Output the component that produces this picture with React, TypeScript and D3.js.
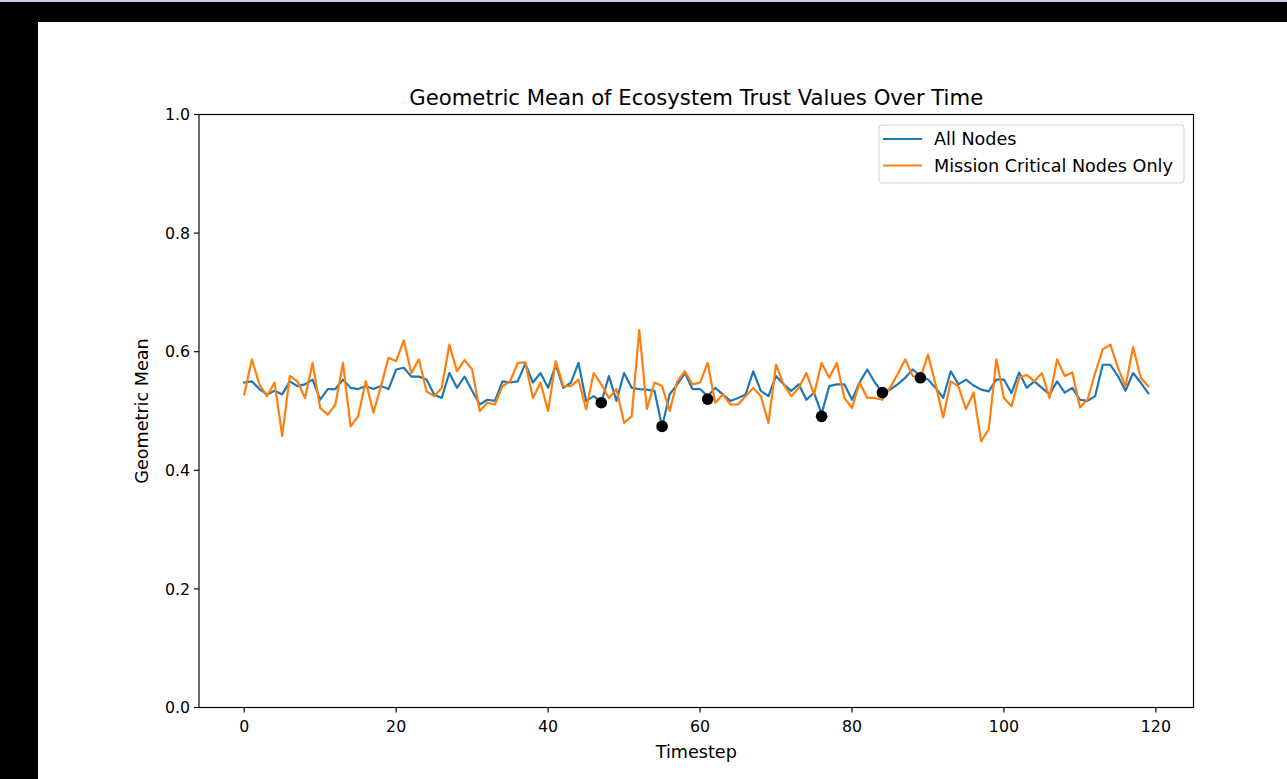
import React from "react";
import * as d3 from "d3";

const allNodes: number[] = [
  0.548, 0.550, 0.537, 0.528, 0.534, 0.528, 0.550, 0.542, 0.545, 0.553,
  0.519, 0.537, 0.537, 0.553, 0.539, 0.537, 0.542, 0.537, 0.542, 0.537,
  0.570, 0.573, 0.558, 0.558, 0.553, 0.528, 0.522, 0.564, 0.539, 0.558,
  0.534, 0.511, 0.519, 0.517, 0.550, 0.548, 0.550, 0.580, 0.548, 0.564,
  0.539, 0.578, 0.539, 0.548, 0.581, 0.517, 0.525, 0.514, 0.559, 0.517,
  0.564, 0.539, 0.537, 0.536, 0.534, 0.474, 0.528, 0.545, 0.564, 0.537,
  0.537, 0.525, 0.539, 0.528, 0.517, 0.522, 0.528, 0.567, 0.534, 0.525,
  0.559, 0.545, 0.534, 0.545, 0.519, 0.531, 0.495, 0.542, 0.545, 0.545,
  0.519, 0.548, 0.570, 0.548, 0.531, 0.536, 0.545, 0.556, 0.570, 0.559,
  0.553, 0.539, 0.522, 0.567, 0.545, 0.553, 0.543, 0.536, 0.533, 0.553,
  0.553, 0.530, 0.565, 0.539, 0.550, 0.539, 0.528, 0.550, 0.531, 0.539,
  0.519, 0.517, 0.525, 0.578, 0.578, 0.559, 0.534, 0.564, 0.548, 0.530,
];

const missionCritical: number[] = [
  0.528, 0.587, 0.545, 0.525, 0.548, 0.458, 0.559, 0.550, 0.522, 0.581,
  0.505, 0.494, 0.511, 0.581, 0.474, 0.491, 0.550, 0.497, 0.542, 0.590,
  0.584, 0.619, 0.564, 0.587, 0.533, 0.525, 0.539, 0.612, 0.567, 0.586,
  0.570, 0.500, 0.514, 0.511, 0.542, 0.550, 0.581, 0.582, 0.522, 0.548,
  0.500, 0.584, 0.542, 0.542, 0.553, 0.503, 0.564, 0.545, 0.522, 0.537,
  0.480, 0.491, 0.637, 0.503, 0.548, 0.542, 0.500, 0.550, 0.567, 0.545,
  0.548, 0.581, 0.514, 0.528, 0.511, 0.511, 0.525, 0.539, 0.525, 0.480,
  0.578, 0.545, 0.525, 0.539, 0.564, 0.528, 0.581, 0.556, 0.581, 0.522,
  0.505, 0.548, 0.522, 0.522, 0.519, 0.539, 0.562, 0.587, 0.559, 0.555,
  0.595, 0.545, 0.489, 0.550, 0.542, 0.503, 0.531, 0.449, 0.469, 0.587,
  0.522, 0.508, 0.556, 0.561, 0.550, 0.564, 0.522, 0.587, 0.559, 0.565,
  0.506, 0.519, 0.564, 0.604, 0.612, 0.573, 0.542, 0.608, 0.556, 0.542,
];

const markedSteps: number[] = [47, 55, 61, 76, 84, 89];
const markedValues: number[] = [0.514, 0.474, 0.520, 0.491, 0.531, 0.556];

const xTicks: number[] = [0, 20, 40, 60, 80, 100, 120];
const yTicks: number[] = [0.0, 0.2, 0.4, 0.6, 0.8, 1.0];

const seriesNames: string[] = ["All Nodes", "Mission Critical Nodes Only"];
const seriesColors: string[] = ["#1f77b4", "#ff7f0e"];

const W = 1287;
const H = 779;
const plot = { left: 199, right: 1193.5, top: 114.5, bottom: 707.5 };
const FONT = "'DejaVu Sans', sans-serif";
const TICK_FS = 15.8;
const LABEL_FS = 17.6;
const TITLE_FS = 21.2;

export default function App() {
  const n = allNodes.length;
  const x = d3
    .scaleLinear()
    .domain([-0.05 * (n - 1), (n - 1) * 1.05])
    .range([plot.left, plot.right]);
  const y = d3.scaleLinear().domain([0, 1]).range([plot.bottom, plot.top]);

  const line = d3
    .line<number>()
    .x((_, i) => x(i))
    .y((d) => y(d));

  const series = [allNodes, missionCritical];

  return (
    <svg
      width={W}
      height={H}
      style={{ position: "fixed", left: 0, top: 0, display: "block" }}
      fontFamily={FONT}
    >
      <rect x={0} y={0} width={W} height={H} fill="#000" />
      <rect x={0} y={0} width={W} height={2} fill="#cfc8e6" />
      <rect x={38} y={22} width={W - 38} height={H - 22} fill="#fff" />

      {/* title */}
      <text
        x={(plot.left + plot.right) / 2}
        y={plot.top - 10}
        textAnchor="middle"
        fontSize={TITLE_FS}
        fill="#000"
      >
        Geometric Mean of Ecosystem Trust Values Over Time
      </text>

      {/* lines */}
      {series.map((s, k) => (
        <path
          key={k}
          d={line(s) || ""}
          fill="none"
          stroke={seriesColors[k]}
          strokeWidth={2.2}
          strokeLinejoin="round"
          strokeLinecap="square"
        />
      ))}

      {/* marked points */}
      {markedSteps.map((t, i) => (
        <circle key={t} cx={x(t)} cy={y(markedValues[i])} r={5.8} fill="#000" />
      ))}

      {/* frame */}
      <rect
        x={plot.left}
        y={plot.top}
        width={plot.right - plot.left}
        height={plot.bottom - plot.top}
        fill="none"
        stroke="#000"
        strokeWidth={1.16}
      />

      {/* x ticks */}
      {xTicks.map((t) => (
        <g key={t} transform={`translate(${x(t)},${plot.bottom})`}>
          <line y1={0} y2={5} stroke="#000" strokeWidth={1.16} />
          <text y={24} textAnchor="middle" fontSize={TICK_FS} fill="#000">
            {t}
          </text>
        </g>
      ))}

      {/* y ticks */}
      {yTicks.map((v) => (
        <g key={v} transform={`translate(${plot.left},${y(v)})`}>
          <line x1={0} x2={-5} stroke="#000" strokeWidth={1.16} />
          <text x={-9} dy="0.36em" textAnchor="end" fontSize={TICK_FS} fill="#000">
            {v.toFixed(1)}
          </text>
        </g>
      ))}

      {/* axis labels */}
      <text
        x={(plot.left + plot.right) / 2}
        y={758}
        textAnchor="middle"
        fontSize={LABEL_FS}
        fill="#000"
      >
        Timestep
      </text>
      <text
        transform={`translate(147.5,${(plot.top + plot.bottom) / 2}) rotate(-90)`}
        textAnchor="middle"
        fontSize={LABEL_FS}
        fill="#000"
      >
        Geometric Mean
      </text>

      {/* legend */}
      <g>
        <rect
          x={879}
          y={125}
          width={305}
          height={58}
          rx={3}
          fill="#fff"
          fillOpacity={0.8}
          stroke="#d0d0d0"
          strokeWidth={1}
        />
        {seriesNames.map((name, i) => (
          <g key={name} transform={`translate(0,${139 + i * 26.5})`}>
            <line x1={883} x2={922} stroke={seriesColors[i]} strokeWidth={2.2} />
            <text x={934} dy="0.36em" fontSize={LABEL_FS} fill="#000">
              {name}
            </text>
          </g>
        ))}
      </g>
    </svg>
  );
}
